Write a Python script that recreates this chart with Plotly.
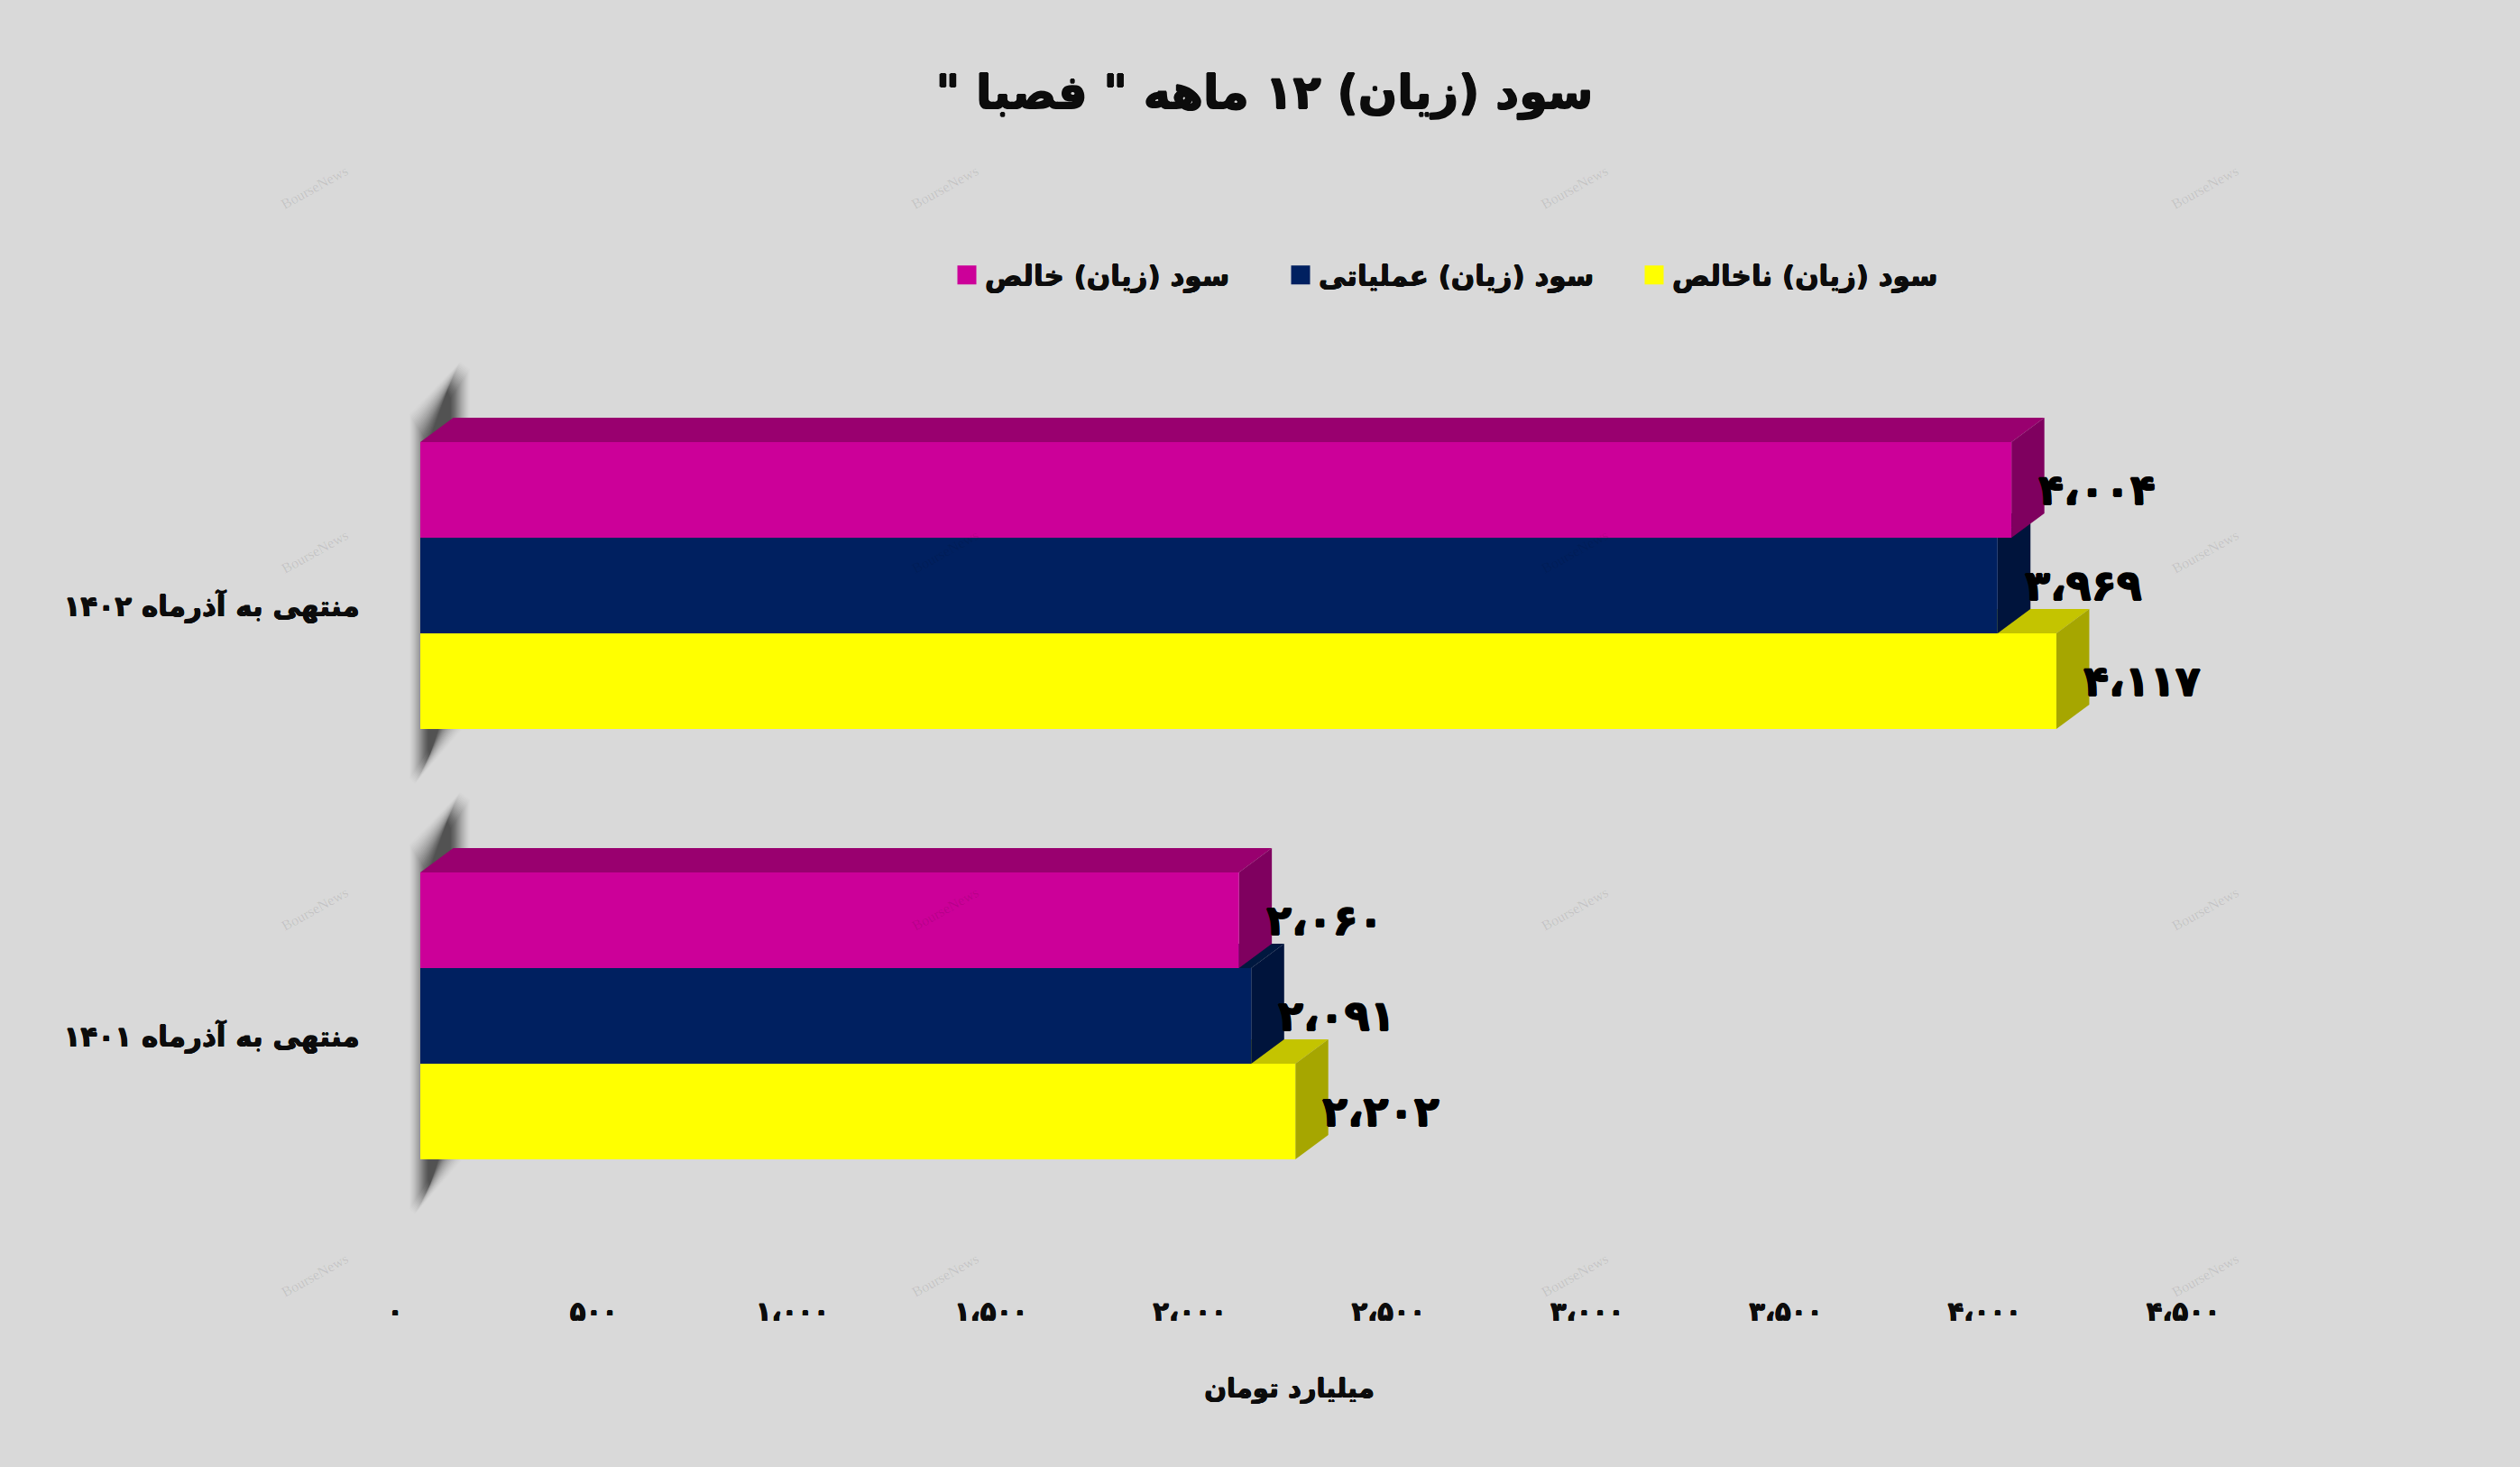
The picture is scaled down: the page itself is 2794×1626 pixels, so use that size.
import plotly.graph_objects as go

# ---- data ----
categories = ["منتهی به آذرماه ۱۴۰۲", "منتهی به آذرماه ۱۴۰۱"]
net_profit = [4004, 2060]
operating_profit = [3969, 2091]
gross_profit = [4117, 2202]
series_names = ["سود (زیان) خالص", "سود (زیان) عملیاتی", "سود (زیان) ناخالص"]
x_ticks = [0, 500, 1000, 1500, 2000, 2500, 3000, 3500, 4000, 4500]
title_text = "\u200fسود (زیان) ۱۲ ماهه \" فصبا \"\u200f"
x_title = "میلیارد تومان"
watermark = "BourseNews"

# ---- geometry of the picture ----
W, H = 2794, 1626
PLOT_L, PLOT_R, PLOT_T, PLOT_B = 438, 2421, 400, 1385
PX_PER_UNIT = 0.4406
PX_PER_CAT = 477
ZERO_PX = 466
CAT0_PX = 649
X_SHIFT = (ZERO_PX - PLOT_L) / PX_PER_UNIT      # front plane is offset from the axis start
DX = 36.5 / PX_PER_UNIT                         # depth of the 3D boxes, data units
DY = -27 / PX_PER_CAT
BAR_W = 106 / PX_PER_CAT
FONT = "DejaVu Sans"
INK = "#0c0c0c"
BG = "#d9d9d9"


def fat(color, w=0.5):
    return f"{w}px 0 0 {color},-{w}px 0 0 {color},0 {w}px 0 {color},0 -{w}px 0 {color}"


y_pos = list(range(len(categories)))
y_range = [(PLOT_B - CAT0_PX) / PX_PER_CAT, (PLOT_T - CAT0_PX) / PX_PER_CAT]
x_range = [-X_SHIFT, (PLOT_R - ZERO_PX) / PX_PER_UNIT]


def fa(n):
    s = f"{n:,}".replace(",", "،")
    return s.translate(str.maketrans("0123456789", "۰۱۲۳۴۵۶۷۸۹"))


def closed(polys):
    xs, ys = [], []
    for p in polys:
        xs += [q[0] for q in p] + [p[0][0], None]
        ys += [q[1] for q in p] + [p[0][1], None]
    return xs, ys


def bold(size, color=INK, w=0.5):
    return dict(family=FONT, size=size, color=color, weight="bold", shadow=fat(color, w))


styles = [
    (net_profit, "#cc0099", "#99006f", "#7f005f", -BAR_W * 1.5),
    (operating_profit, "#002060", "#00183f", "#00143c", -BAR_W * 0.5),
    (gross_profit, "#ffff00", "#c4c400", "#a6a600", BAR_W * 0.5),
]

fig = go.Figure()

# draw from the lowest bar to the top one so each front face covers the next box
for level, idx in enumerate([2, 1, 0]):
    vals, front, top, side, off = styles[idx]
    z = level * 3
    tops, sides = [], []
    for y, v in zip(y_pos, vals):
        y0, y1 = y + off, y + off + BAR_W
        tops.append([(0, y0), (DX, y0 + DY), (v + DX, y0 + DY), (v, y0)])
        sides.append([(v, y0), (v + DX, y0 + DY), (v + DX, y1 + DY), (v, y1)])
    for polys, col in ((tops, top), (sides, side)):
        xs, ys = closed(polys)
        fig.add_trace(go.Scatter(x=xs, y=ys, mode="lines", fill="toself", fillcolor=col,
                                 line=dict(width=0, color=col), hoverinfo="skip",
                                 showlegend=False, zorder=z))
    fig.add_trace(go.Bar(y=y_pos, x=vals, orientation="h", width=BAR_W, offset=off,
                         marker=dict(color=front, line=dict(width=0)),
                         showlegend=False, name=series_names[idx], zorder=z + 1))

# legend: one small legend per series so that the entries sit where they should
legend_left = [1052, 1422, 1814]
legend_cfg = {}
for idx in range(3):
    col = styles[idx][1]
    key = "legend" if idx == 0 else f"legend{idx + 1}"
    fig.add_trace(go.Scatter(x=[None], y=[None], mode="markers", name=series_names[idx],
                             legend=key,
                             marker=dict(symbol="square", size=16, color=col,
                                         line=dict(width=5, color=col))))
    legend_cfg[key] = dict(orientation="h", x=(legend_left[idx] - PLOT_L) / (PLOT_R - PLOT_L),
                           y=(PLOT_B - 305) / (PLOT_B - PLOT_T), yanchor="middle", xanchor="left",
                           bgcolor="rgba(0,0,0,0)", font=bold(31))

# soft shadow behind the left end of each group
shapes = []
LAYERS = 20
for y in y_pos:
    for k in range(LAYERS):
        t = k / (LAYERS - 1)
        s = 0.62 * t
        inset = 32 * t
        outline = [(-12, -190), (44, -248), (55, -240), (55, 160), (46, 160), (-6, 220), (-12, 214)]
        pts = []
        for px, py in outline:
            cx = 21
            nx = cx + (px - cx) * (1 - s)
            ny = py + (inset if py < 0 else -inset)
            pts.append((nx / PX_PER_UNIT, y + ny / PX_PER_CAT))
        path = "M" + "L".join(f"{a:.3f},{b:.5f}" for a, b in pts) + "Z"
        shapes.append(dict(type="path", path=path, xref="x", yref="y", layer="below",
                           fillcolor=f"rgba(30,30,30,{0.012 + 0.09 * t:.3f})", line=dict(width=0)))

# watermark
annotations = []
for wx in (349, 1048, 1746, 2445):
    for wy in (208, 611, 1007, 1413):
        annotations.append(dict(text=watermark, xref="paper", yref="paper",
                                x=(wx - PLOT_L) / (PLOT_R - PLOT_L),
                                y=(PLOT_B - wy) / (PLOT_B - PLOT_T),
                                showarrow=False, textangle=-29, xanchor="center", yanchor="middle",
                                font=dict(family="Liberation Serif", size=16, color="rgba(0,0,0,0.1)")))

# value labels
for idx in range(3):
    vals, front, top, side, off = styles[idx]
    for y, v in zip(y_pos, vals):
        annotations.append(dict(text=fa(v), xref="x", yref="y", x=v + 30 / PX_PER_UNIT,
                                y=y + off + BAR_W / 2, showarrow=False, xanchor="left", yanchor="middle",
                                xshift=-2, font=bold(46, "#000000", 0.8)))

fig.update_layout(
    width=W, height=H, paper_bgcolor=BG, plot_bgcolor=BG,
    margin=dict(l=PLOT_L, r=W - PLOT_R, t=PLOT_T, b=H - PLOT_B, pad=0),
    barmode="overlay", shapes=shapes, annotations=annotations,
    title=dict(text=title_text, x=1402 / W, xanchor="center", y=1 - 102 / H, yanchor="middle",
               font=bold(51, INK, 0.8)),
    xaxis=dict(range=x_range, tickvals=[t - X_SHIFT for t in x_ticks], ticktext=[fa(t) for t in x_ticks],
               showgrid=False, zeroline=False, showline=False, ticks="outside", ticklen=43,
               tickcolor="rgba(0,0,0,0)",
               tickfont=bold(29),
               title=dict(text=x_title, standoff=58, font=bold(29))),
    yaxis=dict(range=y_range, tickvals=[y + 23 / PX_PER_CAT for y in y_pos], ticktext=categories,
               showgrid=False, zeroline=False, showline=True, linecolor="#d3d3d3", linewidth=1,
               ticks="outside", ticklen=32, tickcolor="rgba(0,0,0,0)",
               tickfont=bold(31)),
    **legend_cfg,
)

fig.write_html("out.html", config={"displayModeBar": False},
               post_script="document.body.style.margin='0';document.body.style.background='%s';" % BG)
